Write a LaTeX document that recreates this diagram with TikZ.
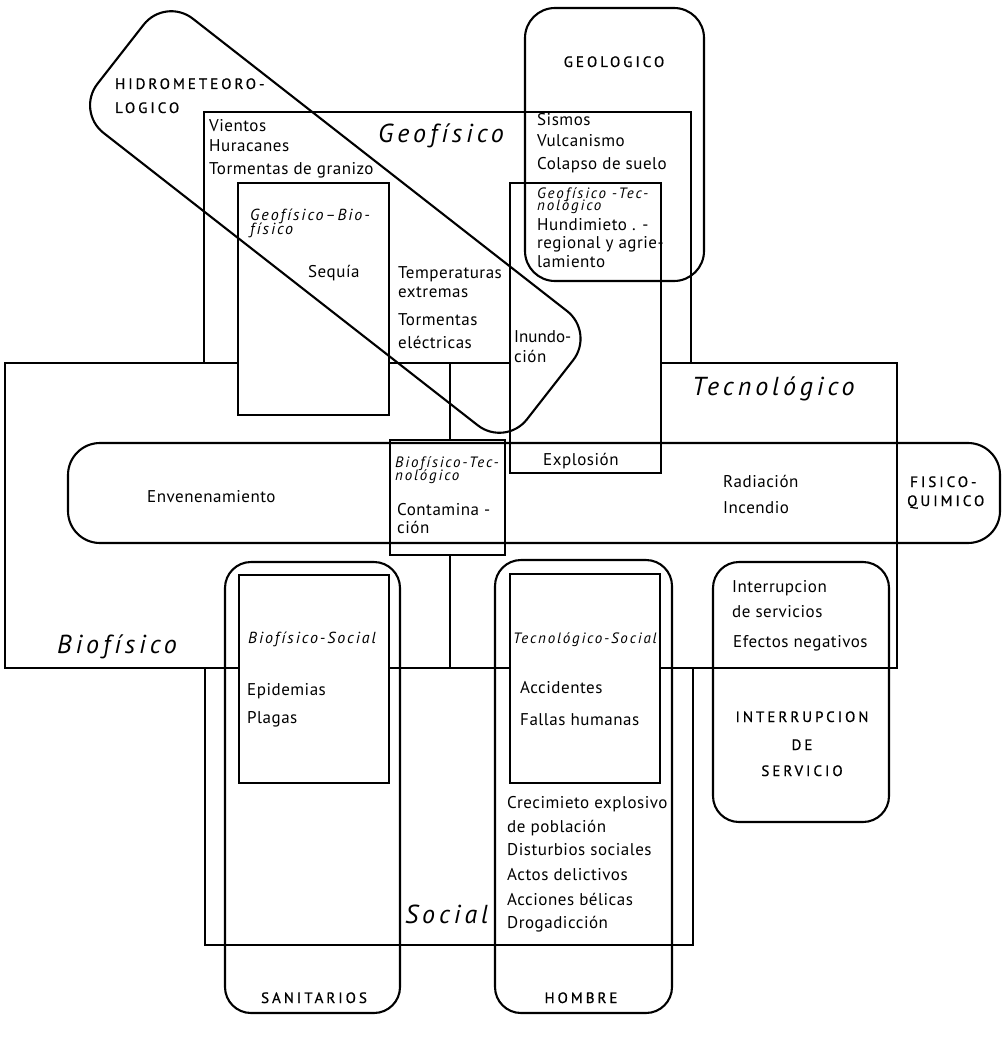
\documentclass[tikz,border=0pt]{standalone}
\usepackage{fontspec}
\setmainfont{PT Sans}
\newfontfamily\bodyfam[LetterSpace=3]{PT Sans}
\newfontfamily\smallfam[LetterSpace=12]{PT Sans Italic}
\newfontfamily\tightfam[LetterSpace=12]{PT Sans Italic}
\newfontfamily\bigfam[LetterSpace=15]{PT Sans Italic}
\newfontfamily\capfam[LetterSpace=20,FakeBold=0.8]{PT Sans}
\newcommand\fbody{\bodyfam\fontsize{17}{20}\selectfont}
\newcommand\fsmall{\smallfam\fontsize{16}{18}\selectfont}
\newcommand\ftight{\tightfam\fontsize{15}{17}\selectfont}
\newcommand\fbig{\bigfam\fontsize{26}{30}\selectfont}
\newcommand\fcaps{\capfam\fontsize{15}{17}\selectfont}
\begin{document}
\begin{tikzpicture}[x=1pt,y=-1pt,
  zone/.style={draw=black, line width=1.1pt},
  overlap/.style={draw=black, fill=white, line width=1.1pt},
  agent/.style={draw=black, line width=2.1pt},
  txt/.style={anchor=base west, inner sep=0pt, font=\fbody},
  smi/.style={anchor=base west, inner sep=0pt, font=\fsmall},
  smti/.style={anchor=base west, inner sep=0pt, font=\ftight},
  bigi/.style={anchor=base west, inner sep=0pt, font=\fbig},
  capl/.style={anchor=base west, inner sep=0pt, font=\fcaps},
  capcl/.style={anchor=base, inner sep=0pt, font=\fcaps}]
\useasboundingbox (0,0) rectangle (1004,1051);

% the four fields
\draw[zone] (204,112) rectangle (691,363);
\draw[zone] (5,363) rectangle (450,668);
\draw[zone] (450,363) rectangle (897,668);
\draw[zone] (205,668) rectangle (693,945);

% overlap zones
\draw[overlap] (238,183) rectangle (389,415);
\draw[overlap] (510,183) rectangle (661,473);
\draw[overlap] (390,440) rectangle (505,555);
\draw[overlap] (239,575) rectangle (389,783);
\draw[overlap] (510,574) rectangle (660,783);

% agent groups
\node[agent, rounded corners=35pt, minimum width=545pt, minimum height=145pt,
      rotate=-38, inner sep=0pt] (hidro) at (335.3,222) {};
\draw[agent, rounded corners=30pt] (525,8) rectangle (704,281);
\draw[agent, rounded corners=32pt] (68,443) rectangle (1000,543);
\draw[agent, rounded corners=26pt] (225,562) rectangle (400,1013);
\draw[agent, rounded corners=26pt] (495,560) rectangle (672,1013);
\draw[agent, rounded corners=26pt] (713,562) rectangle (889,822);

% labels of the agent groups
\node[capl] (h1) at (115,89) {HIDROMETEORO-};
\node[capl] (h2) at (115,113) {LOGICO};
\node[capcl] (geol) at (614,67) {GEOLOGICO};
\node[capl] (fq1) at (910,487) {FISICO-};
\node[capl] (fq2) at (907,506) {QUIMICO};
\node[capcl] (san) at (314,1003) {SANITARIOS};
\node[capcl] (hom) at (581,1003) {HOMBRE};
\node[capcl] (is1) at (802,722) {INTERRUPCION};
\node[capcl] (is2) at (802,750) {DE};
\node[capcl] (is3) at (802,776) {SERVICIO};

% field names
\node[bigi] (geo) at (378,143) {Geofísico};
\node[bigi] (tec) at (692,395) {Tecnológico};
\node[bigi] (bio) at (57,653) {Biofísico};
\node[bigi] (soc) at (405,923) {Social};

% overlap names
\node[smi] (gb1) at (250,220) {Geofísico–Bio-};
\node[smi] (gb2) at (250,234) {físico};
\node[smti] (gt1) at (537,198) {Geofísico -Tec-};
\node[smti] (gt2) at (537,211) {nológico};
\node[smti] (bt1) at (395,467) {Biofísico-Tec-};
\node[smti] (bt2) at (395,480) {nológico};
\node[smi] (bs) at (248,643) {Biofísico-Social};
\node[smti] (ts) at (513,643) {Tecnológico-Social};

% phenomena
\node[txt] (p1) at (209,132) {Vientos};
\node[txt] (p2) at (209,152) {Huracanes};
\node[txt] (p3) at (209,175) {Tormentas de granizo};
\node[txt] (p4) at (308,277) {Sequía};
\node[txt] (p5) at (398,278) {Temperaturas};
\node[txt] (p6) at (398,297) {extremas};
\node[txt] (p7) at (398,325) {Tormentas};
\node[txt] (p8) at (398,348) {eléctricas};
\node[txt] (p9) at (537,126) {Sismos};
\node[txt] (p10) at (537,147) {Vulcanismo};
\node[txt] (p11) at (537,170) {Colapso de suelo};
\node[txt] (p12) at (537,230) {Hundimieto . -};
\node[txt] (p13) at (537,248) {regional y agrie-};
\node[txt] (p14) at (537,267) {lamiento};
\node[txt, font=\fbody\addfontfeature{LetterSpace=0}] (p15) at (514,342) {Inundo-};
\node[txt] (p16) at (514,362) {ción};
\node[txt] (p17) at (543,465) {Explosión};
\node[txt] (p18) at (723,487) {Radiación};
\node[txt] (p19) at (723,513) {Incendio};
\node[txt] (p20) at (147,502) {Envenenamiento};
\node[txt] (p21) at (397,515) {Contamina -};
\node[txt] (p22) at (397,533) {ción};
\node[txt] (p23) at (247,695) {Epidemias};
\node[txt] (p24) at (247,723) {Plagas};
\node[txt] (p25) at (520,693) {Accidentes};
\node[txt] (p26) at (520,725) {Fallas humanas};
\node[txt] (p27) at (507,808) {Crecimieto explosivo};
\node[txt] (p28) at (507,832) {de población};
\node[txt] (p29) at (507,855) {Disturbios sociales};
\node[txt] (p30) at (507,880) {Actos delictivos};
\node[txt] (p31) at (507,905) {Acciones bélicas};
\node[txt] (p32) at (507,928) {Drogadicción};
\node[txt] (p33) at (732,592) {Interrupcion};
\node[txt] (p34) at (732,617) {de servicios};
\node[txt] (p35) at (733,647) {Efectos negativos};
\end{tikzpicture}
\end{document}
